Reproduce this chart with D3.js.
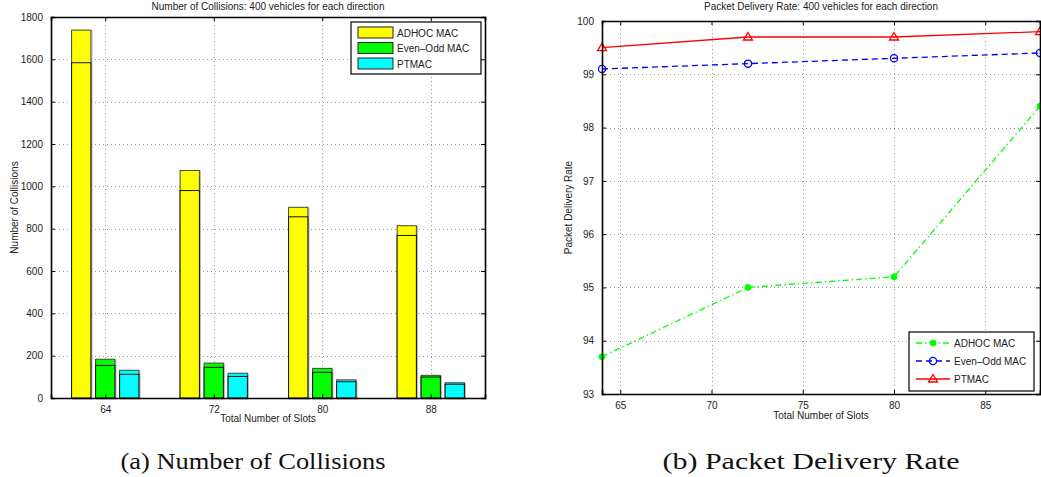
<!DOCTYPE html>
<html>
<head>
<meta charset="utf-8">
<script src="https://cdn.jsdelivr.net/npm/d3@7"></script>
<style>
  body { margin: 0; background: #fff; }
  text { font-family: "Liberation Sans", Arial, sans-serif; fill: #222; }
  .caption { font-family: "Liberation Serif", "DejaVu Serif", serif; fill: #111; }
</style>
</head>
<body>
<svg id="fig" width="1041" height="477"></svg>
<script>
// data
var slots = [64, 72, 80, 88];
var seriesNames = ["ADHOC MAC", "Even\u2013Odd MAC", "PTMAC"];

// collisions: each bar has a full height and an inner line (two overlaid bars)
var adhocCollTop = [1738, 1075, 901, 814];
var adhocCollLow = [1584, 980, 856, 768];
var evenOddCollTop = [183, 165, 140, 107];
var evenOddCollLow = [154, 145, 121, 99];
var ptmacCollTop = [131, 117, 86, 72];
var ptmacCollLow = [112, 102, 77, 65];

// packet delivery rate
var adhocPdr = [93.7, 95.0, 95.2, 98.4];
var evenOddPdr = [99.1, 99.2, 99.3, 99.4];
var ptmacPdr = [99.5, 99.7, 99.7, 99.8];

var collTicksY = [0, 200, 400, 600, 800, 1000, 1200, 1400, 1600, 1800];
var pdrTicksX = [65, 70, 75, 80, 85];
var pdrTicksY = [93, 94, 95, 96, 97, 98, 99, 100];

var svg = d3.select("#fig");
var fmt = d3.format("d");

// ---------------- left: collisions ----------------
var L = {x0: 51, x1: 485, y0: 17, y1: 398};
var xL = d3.scaleLinear().domain([60, 92]).range([L.x0, L.x1]);
var yL = d3.scaleLinear().domain([0, 1800]).range([L.y1, L.y0]);

var gL = svg.append("g");

function drawGrid(g, xs, ys, xScale, yScale, box) {
  g.selectAll(".vg").data(xs).enter().append("line")
      .attr("x1", function(d) { return Math.round(xScale(d)) + 0.5; })
      .attr("x2", function(d) { return Math.round(xScale(d)) + 0.5; })
      .attr("y1", box.y0).attr("y2", box.y1)
      .style("stroke", "#999").style("stroke-dasharray", "1,3");
  g.selectAll(".hg").data(ys).enter().append("line")
      .attr("y1", function(d) { return Math.round(yScale(d)) + 0.5; })
      .attr("y2", function(d) { return Math.round(yScale(d)) + 0.5; })
      .attr("x1", box.x0).attr("x2", box.x1)
      .style("stroke", "#999").style("stroke-dasharray", "1,3");
}

function drawAxes(g, xs, ys, xScale, yScale, box) {
  var bottom = g.append("g").attr("transform", "translate(0," + box.y1 + ")")
      .call(d3.axisBottom(xScale).tickValues(xs).tickSize(-4).tickPadding(8).tickFormat(fmt));
  var top = g.append("g").attr("transform", "translate(0," + box.y0 + ")")
      .call(d3.axisTop(xScale).tickValues(xs).tickSize(-4).tickFormat(""));
  var left = g.append("g").attr("transform", "translate(" + box.x0 + ",0)")
      .call(d3.axisLeft(yScale).tickValues(ys).tickSize(-4).tickPadding(8).tickFormat(fmt));
  var right = g.append("g").attr("transform", "translate(" + box.x1 + ",0)")
      .call(d3.axisRight(yScale).tickValues(ys).tickSize(-4).tickFormat(""));
  [bottom, top, left, right].forEach(function(a) {
    a.select(".domain").style("stroke", "#000").style("stroke-width", 1.6);
    a.selectAll(".tick line").style("stroke", "#000");
    a.selectAll("text").style("font-size", "10px").style("fill", "#222")
      .style("font-family", "Liberation Sans, Arial, sans-serif");
  });
}

drawGrid(gL, slots, collTicksY.slice(1, -1), xL, yL, L);

var barW = 19.3 / (xL(1) - xL(0));   // in data units
var offsets = [-1.77, 0, 1.77];
var colors = ["#ffff00", "#00ff00", "#00ffff"];
var collTop = [adhocCollTop, evenOddCollTop, ptmacCollTop];
var collLow = [adhocCollLow, evenOddCollLow, ptmacCollLow];

collTop.forEach(function(vals, s) {
  var g = gL.append("g");
  var rows = slots.map(function(d, i) { return {x: d + offsets[s], top: vals[i], low: collLow[s][i]}; });
  // shadow
  g.selectAll(".sh").data(rows).enter().append("rect")
      .attr("x", function(d) { return xL(d.x - barW / 2) + 1; })
      .attr("y", function(d) { return yL(d.top) + 1; })
      .attr("width", xL(barW) - xL(0))
      .attr("height", function(d) { return yL(0) - yL(d.top); })
      .style("fill", "none").style("stroke", "#bbb").style("stroke-width", 1.2);
  g.selectAll(".top").data(rows).enter().append("rect")
      .attr("x", function(d) { return xL(d.x - barW / 2); })
      .attr("y", function(d) { return yL(d.top); })
      .attr("width", xL(barW) - xL(0))
      .attr("height", function(d) { return yL(0) - yL(d.top); })
      .style("fill", colors[s]).style("stroke", "#444").style("stroke-width", 1);
  g.selectAll(".low").data(rows).enter().append("rect")
      .attr("x", function(d) { return xL(d.x - barW / 2); })
      .attr("y", function(d) { return yL(d.low); })
      .attr("width", xL(barW) - xL(0))
      .attr("height", function(d) { return yL(0) - yL(d.low); })
      .style("fill", colors[s]).style("stroke", "#111").style("stroke-width", 1);
});

drawAxes(gL, slots, collTicksY, xL, yL, L);

gL.append("text").attr("x", (L.x0 + L.x1) / 2).attr("y", 10)
    .attr("text-anchor", "middle").style("font-size", "10px")
    .text("Number of Collisions: 400 vehicles for each direction");
gL.append("text").attr("x", (L.x0 + L.x1) / 2).attr("y", 422)
    .attr("text-anchor", "middle").style("font-size", "10px")
    .text("Total Number of Slots");
gL.append("text").attr("transform", "translate(18," + (L.y0 + L.y1) / 2 + ") rotate(-90)")
    .attr("text-anchor", "middle").style("font-size", "10px")
    .text("Number of Collisions");

// legend left
var legL = gL.append("g").attr("transform", "translate(351,22)");
legL.append("rect").attr("width", 130).attr("height", 52)
    .style("fill", "#fff").style("stroke", "#000").style("stroke-width", 1.2);
seriesNames.forEach(function(n, i) {
  legL.append("rect").attr("x", 7).attr("y", 5 + i * 15.5).attr("width", 35).attr("height", 11)
      .style("fill", colors[i]).style("stroke", "#222");
  legL.append("text").attr("x", 46).attr("y", 14.5 + i * 15.5).style("font-size", "10px").text(n);
});

gL.append("text").attr("class", "caption").attr("x", 253).attr("y", 469)
    .attr("text-anchor", "middle").style("font-size", "24px")
    .attr("textLength", 265).attr("lengthAdjust", "spacingAndGlyphs")
    .text("(a) Number of Collisions");

// ---------------- right: packet delivery rate ----------------
var R = {x0: 602, x1: 1040, y0: 21, y1: 394};
var xR = d3.scaleLinear().domain([64, 88]).range([R.x0, R.x1]);
var yR = d3.scaleLinear().domain([93, 100]).range([R.y1, R.y0]);
var gR = svg.append("g");

drawGrid(gR, pdrTicksX, pdrTicksY.slice(1, -1), xR, yR, R);

var lineColors = ["#00ff00", "#0000ff", "#ff0000"];
var dashes = ["6,3,1.5,3", "6,4", null];
var pdrSeries = [adhocPdr, evenOddPdr, ptmacPdr];
var line = d3.line().x(function(d) { return xR(d.x); }).y(function(d) { return yR(d.y); });

function marker(g, kind, color, cx, cy) {
  if (kind === 0) {
    g.append("circle").attr("cx", cx).attr("cy", cy).attr("r", 3)
        .style("fill", color).style("stroke", color);
  } else if (kind === 1) {
    g.append("circle").attr("cx", cx).attr("cy", cy).attr("r", 3.6)
        .style("fill", "none").style("stroke", color).style("stroke-width", 1.3);
  } else {
    g.append("path").attr("d", "M" + cx + "," + (cy - 4.5) + "L" + (cx + 4.5) + "," + (cy + 3) + "L" + (cx - 4.5) + "," + (cy + 3) + "Z")
        .style("fill", "none").style("stroke", color).style("stroke-width", 1.3);
  }
}

pdrSeries.forEach(function(vals, s) {
  var pts = slots.map(function(d, i) { return {x: d, y: vals[i]}; });
  var g = gR.append("g");
  g.append("path").datum(pts).attr("d", line)
      .style("fill", "none").style("stroke", lineColors[s]).style("stroke-width", 1.3)
      .style("stroke-dasharray", dashes[s]);
  pts.forEach(function(p) { marker(g, s, lineColors[s], xR(p.x), yR(p.y)); });
});

drawAxes(gR, pdrTicksX, pdrTicksY, xR, yR, R);

gR.append("text").attr("x", (R.x0 + R.x1) / 2).attr("y", 10)
    .attr("text-anchor", "middle").style("font-size", "10px")
    .text("Packet Delivery Rate: 400 vehicles for each direction");
gR.append("text").attr("x", (R.x0 + R.x1) / 2).attr("y", 419)
    .attr("text-anchor", "middle").style("font-size", "10px")
    .text("Total Number of Slots");
gR.append("text").attr("transform", "translate(572," + (R.y0 + R.y1) / 2 + ") rotate(-90)")
    .attr("text-anchor", "middle").style("font-size", "10px")
    .text("Packet Delivery Rate");

// legend right
var legR = gR.append("g").attr("transform", "translate(909,332)");
legR.append("rect").attr("width", 125).attr("height", 59)
    .style("fill", "#fff").style("stroke", "#000").style("stroke-width", 1.2);
seriesNames.forEach(function(n, i) {
  var yy = 11 + i * 18;
  legR.append("line").attr("x1", 7).attr("x2", 41).attr("y1", yy).attr("y2", yy)
      .style("stroke", lineColors[i]).style("stroke-width", 1.3).style("stroke-dasharray", dashes[i]);
  marker(legR, i, lineColors[i], 24, yy);
  legR.append("text").attr("x", 45).attr("y", yy + 4).style("font-size", "10px").text(n);
});

gR.append("text").attr("class", "caption").attr("x", 811).attr("y", 469)
    .attr("text-anchor", "middle").style("font-size", "24px")
    .attr("textLength", 297).attr("lengthAdjust", "spacingAndGlyphs")
    .text("(b) Packet Delivery Rate");
</script>
</body>
</html>
